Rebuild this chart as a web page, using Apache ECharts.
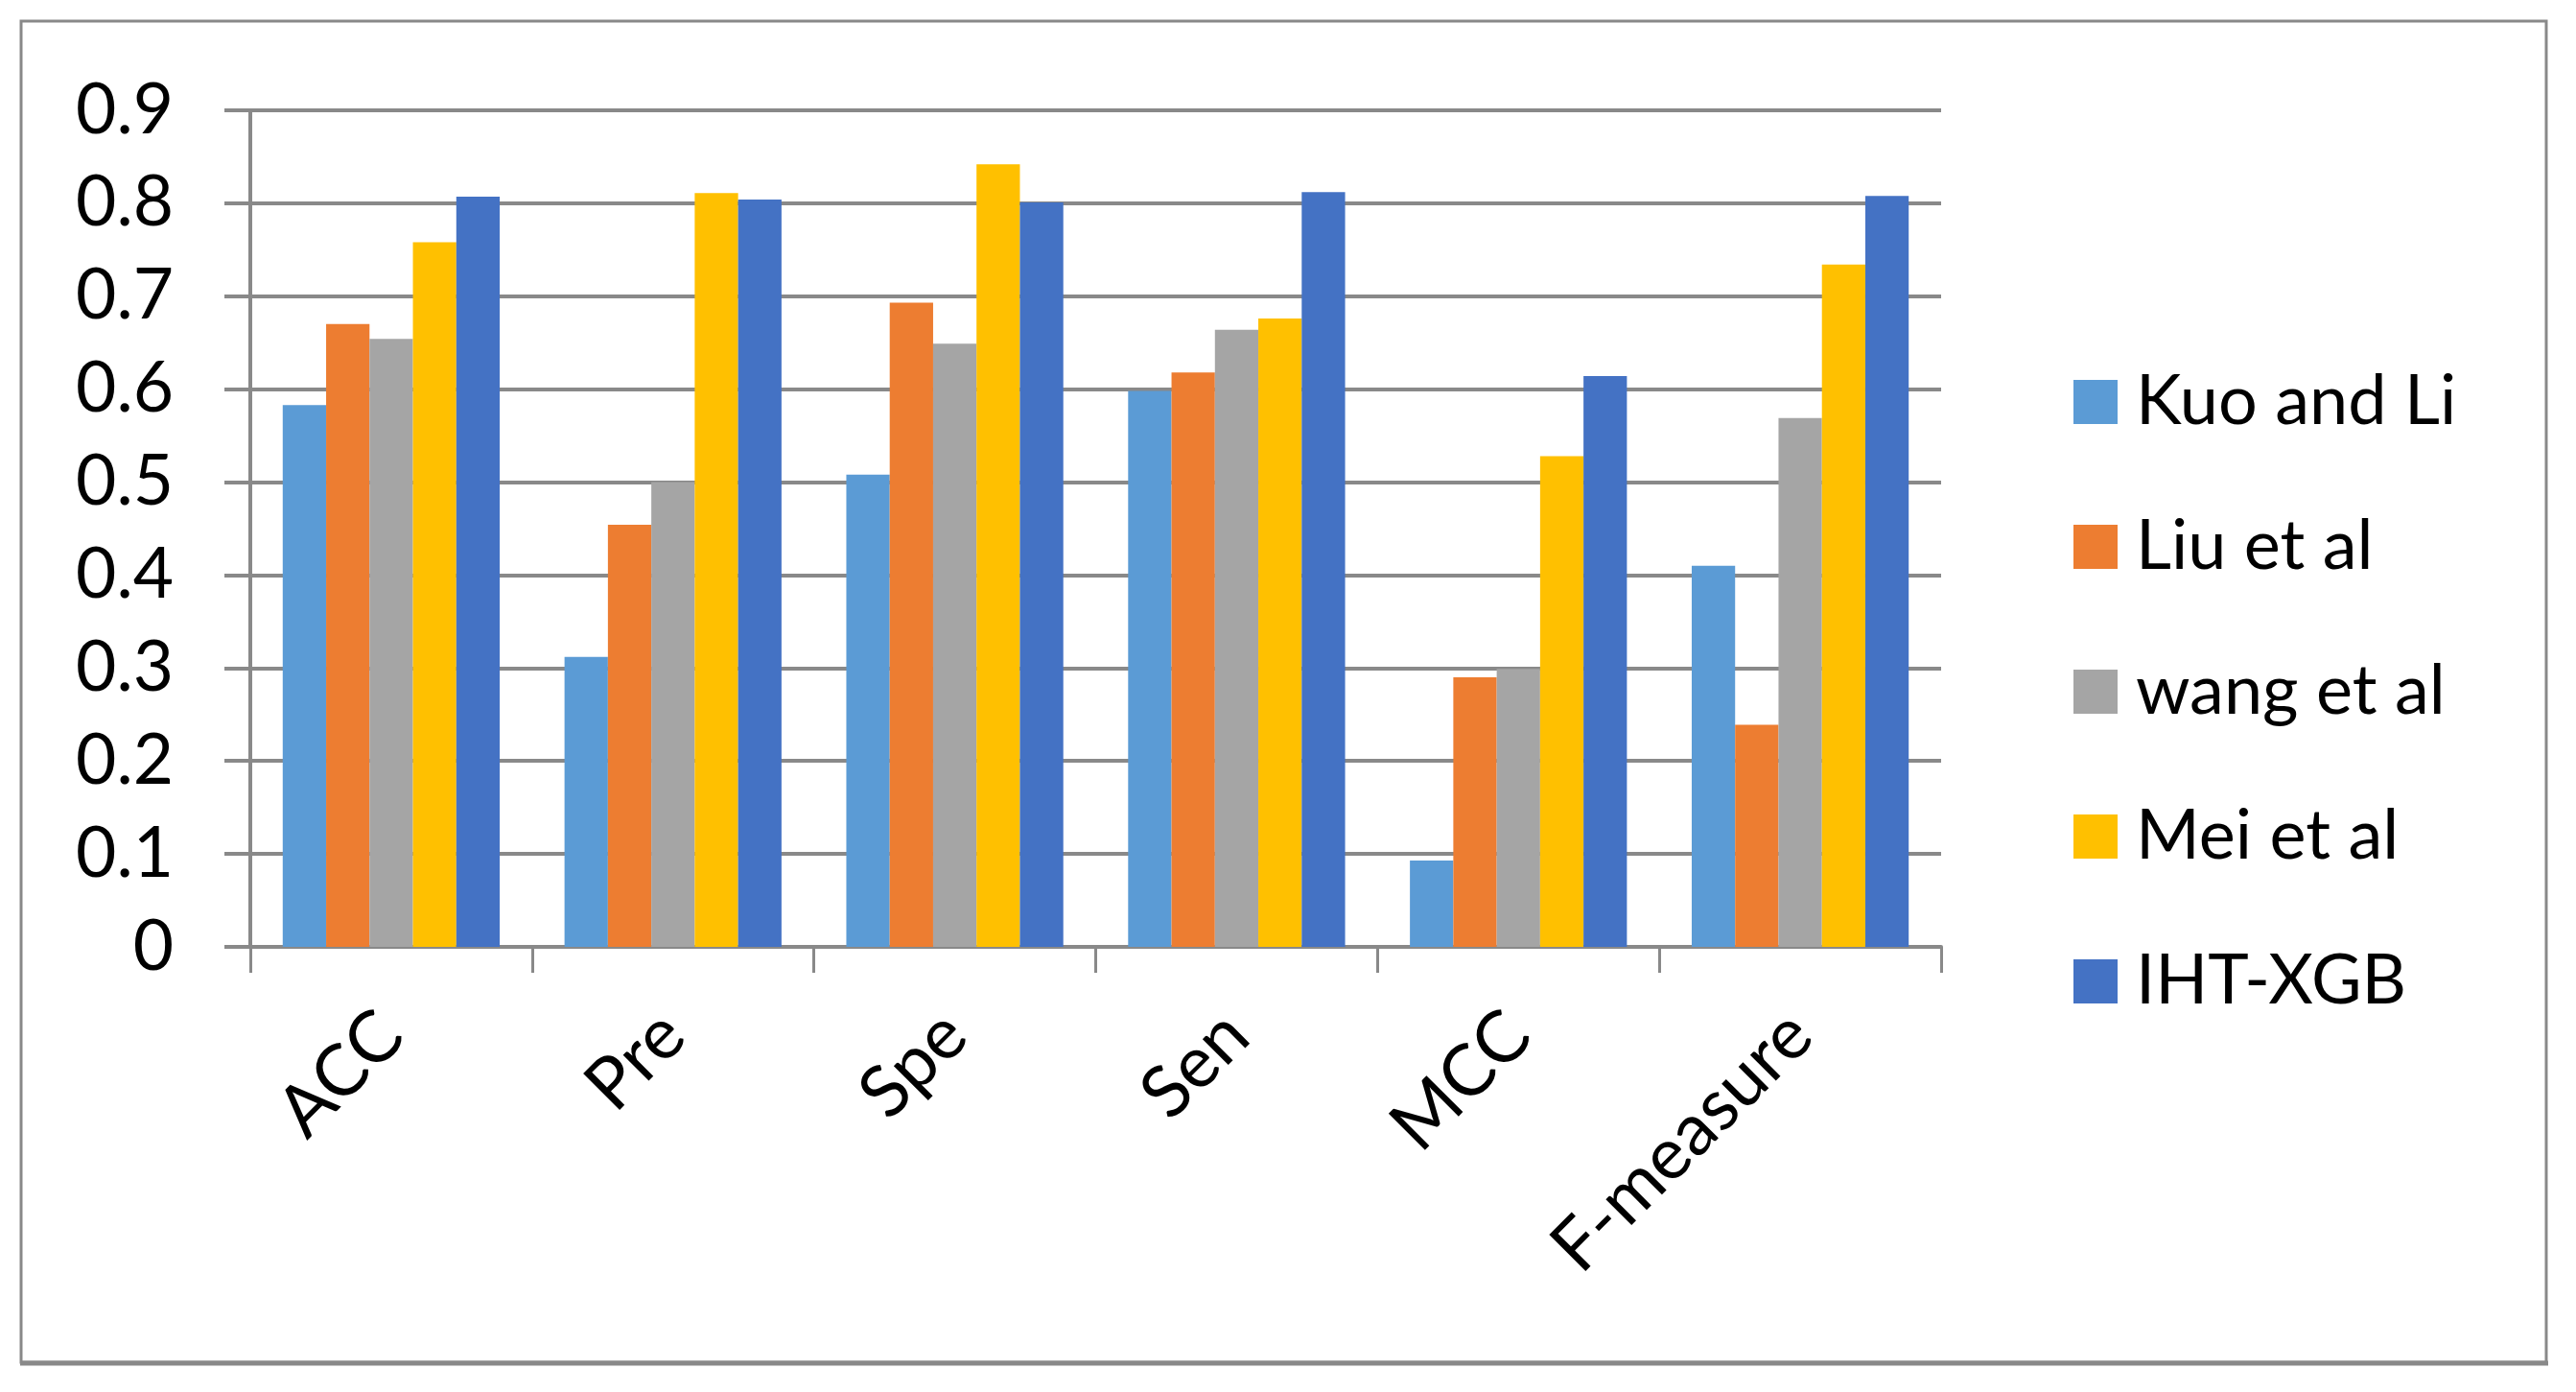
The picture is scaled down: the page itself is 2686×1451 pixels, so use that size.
<!DOCTYPE html>
<html>
<head>
<meta charset="utf-8">
<script src="https://cdn.jsdelivr.net/npm/echarts@6/dist/echarts.min.js"></script>
<style>
html,body{margin:0;padding:0;background:#fff;}
#chart{width:2686px;height:1451px;}
</style>
</head>
<body>
<div id="chart"></div>
<script>
const categories = ['ACC', 'Pre', 'Spe', 'Sen', 'MCC', 'F-measure'];
const seriesNames = ['Kuo and Li', 'Liu et al', 'wang et al', 'Mei et al', 'IHT-XGB'];
const kuoAndLi = [0.583, 0.312, 0.508, 0.598, 0.093, 0.410];
const liuEtAl  = [0.670, 0.454, 0.693, 0.618, 0.290, 0.239];
const wangEtAl = [0.654, 0.500, 0.649, 0.664, 0.299, 0.569];
const meiEtAl  = [0.758, 0.811, 0.842, 0.676, 0.528, 0.734];
const ihtXgb   = [0.807, 0.804, 0.801, 0.812, 0.614, 0.808];
const colors = ['#5B9BD5', '#ED7D31', '#A5A5A5', '#FFC000', '#4472C4'];
const yTicks = [0, 0.1, 0.2, 0.3, 0.4, 0.5, 0.6, 0.7, 0.8, 0.9];

const seriesData = [kuoAndLi, liuEtAl, wangEtAl, meiEtAl, ihtXgb];
const FONT = 'Lato';
const chart = echarts.init(document.getElementById('chart'));
chart.setOption({
  backgroundColor: '#fff',
  animation: false,
  grid: { left: 261, right: 662, top: 115, bottom: 464 },
  legend: {
    orient: 'vertical',
    left: 2157,
    top: 374,
    itemWidth: 46,
    itemHeight: 46,
    itemGap: 71,
    icon: 'rect',
    data: seriesNames,
    textStyle: { fontFamily: FONT, fontSize: 72, color: '#000', lineHeight: 80, padding: [0, 0, 0, 14] }
  },
  xAxis: {
    type: 'category',
    data: categories,
    axisLine: { lineStyle: { color: '#898989', width: 4 } },
    axisTick: { show: true, length: 27, lineStyle: { color: '#898989', width: 3 } },
    axisLabel: { rotate: 45, margin: 80, fontFamily: FONT, fontSize: 75, color: '#000' },
    splitLine: { show: false }
  },
  yAxis: {
    type: 'value',
    min: 0,
    max: 0.9,
    interval: 0.1,
    axisLine: { show: true, lineStyle: { color: '#898989', width: 4 } },
    axisTick: { show: true, length: 27, lineStyle: { color: '#898989', width: 4 } },
    axisLabel: {
      margin: 80, fontFamily: FONT, fontSize: 73, color: '#000',
      formatter: v => { const t = yTicks.find(x => Math.abs(x - v) < 1e-9); return t === 0 ? '0' : (t !== undefined ? t.toFixed(1) : ''); }
    },
    splitLine: { show: true, lineStyle: { color: '#898989', width: 4 } }
  },
  series: seriesNames.map((n, i) => ({
    name: n,
    type: 'bar',
    data: seriesData[i],
    barGap: '0%',
    barCategoryGap: '23%',
    itemStyle: { color: colors[i] }
  })),
  graphic: [
    { type: 'rect', shape: { x: 22, y: 22, width: 2633, height: 1398 }, style: { fill: 'none', stroke: '#898989', lineWidth: 3 }, silent: true },
    { type: 'line', shape: { x1: 21, y1: 1421, x2: 2657, y2: 1421 }, style: { stroke: '#898989', lineWidth: 5 }, silent: true }
  ]
});
</script>
</body>
</html>
